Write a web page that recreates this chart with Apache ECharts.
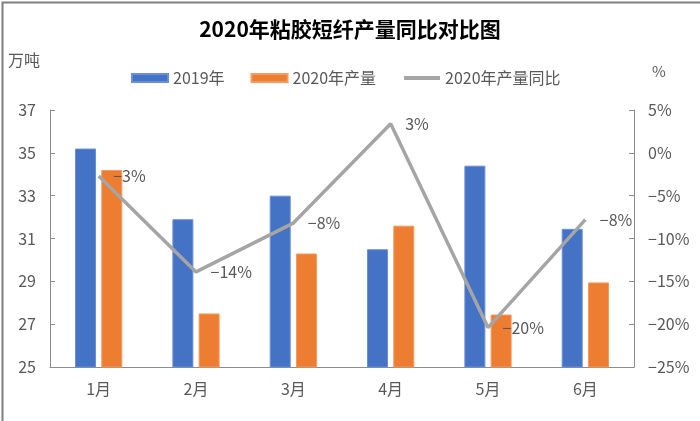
<!DOCTYPE html>
<html><head><meta charset="utf-8">
<script src="https://cdn.jsdelivr.net/npm/echarts@6/dist/echarts.min.js"></script>
<style>html,body{margin:0;padding:0;background:#fff}#c{width:700px;height:421px}</style>
</head><body><div id="c"></div>
<script>
const categories = ['1月','2月','3月','4月','5月','6月'];
const output2019 = [35.2, 31.9, 33.0, 30.5, 34.4, 31.45];
const output2020 = [34.2, 27.5, 30.3, 31.6, 27.45, 28.95];
const yoy2020 = [-2.7, -13.9, -8.2, 3.4, -20.4, -7.8];
const leftTicks = {min: 25, max: 37, interval: 2};
const rightTicks = {min: -25, max: 5, interval: 5};

const FONT = '"Noto Sans CJK SC", "DejaVu Sans", sans-serif';
const TXT = '#595959';
const fmtNum = v => (v < 0 ? '\u2212' + Math.abs(v) : '' + v);

const chart = echarts.init(document.getElementById('c'));
chart.setOption({
  animation: false,
  textStyle: {fontFamily: FONT},
  title: {
    text: '2020年粘胶短纤产量同比对比图',
    left: 'center', top: 14,
    textStyle: {fontSize: 21, fontWeight: 'bold', color: '#000', fontFamily: FONT}
  },
  graphic: [
    {type: 'rect', left: 0, top: 0, shape: {width: 699, height: 420},
     style: {fill: 'none', stroke: '#7f7f7f', lineWidth: 2}, silent: true},
    {type: 'text', left: 8, top: 52, style: {text: '万吨', fontSize: 16, fill: TXT, fontFamily: FONT}},
    {type: 'text', left: 652, top: 64, style: {text: '%', fontSize: 15, fill: TXT, fontFamily: FONT}}
  ],
  legend: {
    top: 65, left: 126,
    itemWidth: 36, itemHeight: 8, itemGap: 26,
    textStyle: {fontSize: 16, color: TXT, fontFamily: FONT},
    data: [
      {name: '2019年', icon: 'rect'},
      {name: '2020年产量', icon: 'rect'},
      {name: '2020年产量同比', lineStyle: {width: 4}}
    ]
  },
  grid: {left: 50, right: 66, top: 110, bottom: 54},
  xAxis: {
    type: 'category', data: categories,
    axisLine: {onZero: false, lineStyle: {color: '#8c8c8c', width: 1}},
    axisTick: {show: false},
    axisLabel: {fontSize: 16, color: TXT, margin: 14}
  },
  yAxis: [
    {type: 'value', min: leftTicks.min, max: leftTicks.max, interval: leftTicks.interval,
     splitLine: {show: false},
     axisLine: {show: true, lineStyle: {color: '#8c8c8c'}},
     axisTick: {show: true, inside: true, length: 5, lineStyle: {color: '#8c8c8c'}},
     axisLabel: {fontSize: 16, color: TXT, margin: 14}},
    {type: 'value', min: rightTicks.min, max: rightTicks.max, interval: rightTicks.interval,
     splitLine: {show: false},
     axisLine: {show: true, lineStyle: {color: '#8c8c8c'}},
     axisTick: {show: true, inside: true, length: 5, lineStyle: {color: '#8c8c8c'}},
     axisLabel: {fontSize: 16, color: TXT, margin: 14, formatter: v => fmtNum(v) + '%'}}
  ],
  series: [
    {name: '2019年', type: 'bar', data: output2019, barWidth: 21, barGap: '25%',
     itemStyle: {color: '#4472C4', borderColor: '#6a8fd6', borderWidth: 1}},
    {name: '2020年产量', type: 'bar', data: output2020, barWidth: 21,
     itemStyle: {color: '#ED7D31', borderColor: '#f39a5e', borderWidth: 1}},
    {name: '2020年产量同比', type: 'line', yAxisIndex: 1, data: yoy2020,
     symbol: 'circle', symbolSize: 1, showSymbol: true,
     lineStyle: {color: '#A5A5A5', width: 3.5},
     itemStyle: {color: 'rgba(165,165,165,0)', borderWidth: 0},
     label: {show: true, position: 'right', distance: 14, fontSize: 16, color: TXT,
             formatter: p => fmtNum(Math.round(p.value)) + '%'}}
  ]
});
</script></body></html>
